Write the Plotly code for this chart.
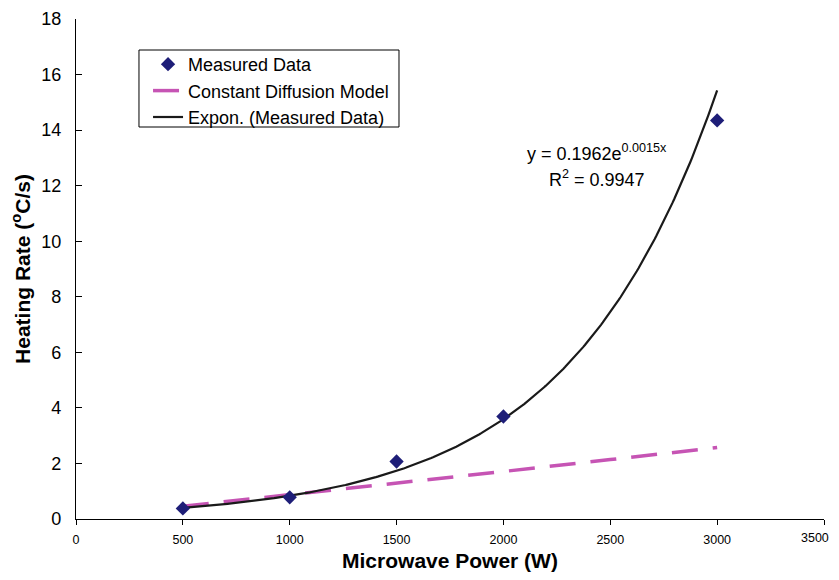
import numpy as np
import plotly.graph_objects as go

# ---- data ----
power_measured = [500, 1000, 1500, 2000, 3000]
rate_measured = [0.38, 0.78, 2.07, 3.69, 14.35]

power_model = [500, 1000, 1500, 2000, 2500, 3000]
rate_model = [0.46, 0.87, 1.29, 1.71, 2.14, 2.57]

x_ticks = [0, 500, 1000, 1500, 2000, 2500, 3000, 3500]
y_ticks = [0, 2, 4, 6, 8, 10, 12, 14, 16, 18]

eq_text = "y = 0.1962e<sup>0.0015x</sup>"
r2_text = "R<sup>2</sup> = 0.9947"

# exponential trendline fitted to the measured data (as Excel does)
b, ln_a = np.polyfit(power_measured, np.log(rate_measured), 1)
x_fit = np.linspace(min(power_measured), max(power_measured), 300)
y_fit = np.exp(ln_a) * np.exp(b * x_fit)

FONT = "Liberation Sans, Arial, sans-serif"

fig = go.Figure()
fig.add_trace(go.Scatter(
    x=power_model, y=rate_model, mode="lines", name="Constant Diffusion Model",
    line=dict(color="#C654B4", width=3.5, dash="26px,15px"), legendrank=2))
fig.add_trace(go.Scatter(
    x=x_fit, y=y_fit, mode="lines", name="Expon. (Measured Data)",
    line=dict(color="#1a1a1a", width=2.2), legendrank=3))
fig.add_trace(go.Scatter(
    x=power_measured, y=rate_measured, mode="markers", name="Measured Data",
    marker=dict(symbol="diamond", size=11, color="#1E1E78"), legendrank=1))

fig.add_annotation(x=2439, y=13.2, text=eq_text, showarrow=False,
                   font=dict(family=FONT, size=18, color="black"))
fig.add_annotation(x=2437, y=12.27, text=r2_text, showarrow=False,
                   font=dict(family=FONT, size=18, color="black"))

# last x tick label, kept inside the visible page edge
x_ticktext = [str(v) for v in x_ticks[:-1]] + [""]
fig.add_annotation(x=x_ticks[-1], xref="x", y=0, yref="paper",
                   text=str(x_ticks[-1]), showarrow=False,
                   xanchor="right", yanchor="middle", xshift=7, yshift=-19,
                   font=dict(family=FONT, size=12.5, color="black"))

# legend frame
fig.add_shape(type="rect", xref="paper", yref="paper",
              x0=0.0842, x1=0.4318, y0=0.784, y1=0.938,
              line=dict(color="black", width=1), fillcolor="white", layer="below")

fig.update_layout(
    width=831, height=564,
    margin=dict(l=68, r=15, t=11, b=53),
    paper_bgcolor="white", plot_bgcolor="white",
    font=dict(family=FONT, color="black"),
    showlegend=True,
    legend=dict(x=0.0963, y=0.946, xanchor="left", yanchor="top",
                bgcolor="rgba(0,0,0,0)", borderwidth=0,
                font=dict(family=FONT, size=18, color="black"),
                tracegroupgap=0),
    xaxis=dict(
        range=[0, 3500], tickvals=x_ticks, ticktext=x_ticktext,
        showgrid=False, zeroline=False, showline=True, linecolor="black",
        linewidth=1.3, ticks="outside", ticklen=5, tickcolor="black",
        tickfont=dict(family=FONT, size=12.5, color="black"),
        ticklabelstandoff=4, ticklabeloverflow="allow", automargin=False,
        title=dict(text="<b>Microwave Power (W)</b>", standoff=14,
                   font=dict(family=FONT, size=21, color="black")),
    ),
    yaxis=dict(
        range=[0, 18], tickvals=y_ticks, ticktext=[str(v) for v in y_ticks],
        showgrid=False, zeroline=False, showline=True, linecolor="black",
        linewidth=1.3, ticks="inside", ticklen=6, tickcolor="black",
        tickfont=dict(family=FONT, size=18, color="black"),
        ticklabelstandoff=10, automargin=False,
        title=dict(text="<b>Heating Rate (<sup>o</sup>C/s)</b>", standoff=6,
                   font=dict(family=FONT, size=21, color="black")),
    ),
)

fig.write_html("out.html")
